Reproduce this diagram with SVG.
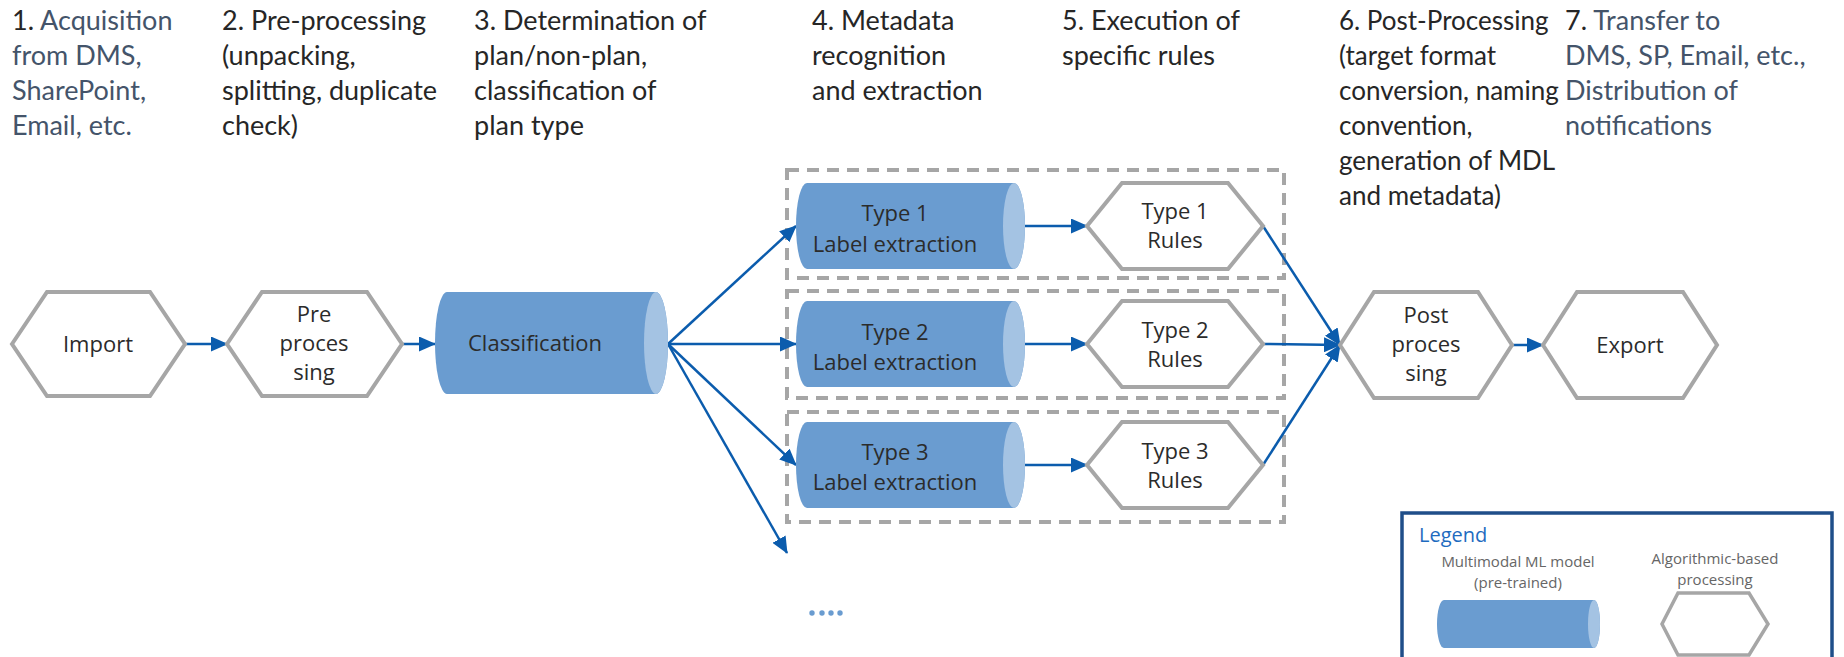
<svg xmlns="http://www.w3.org/2000/svg" width="1844" height="657" viewBox="0 0 1844 657">
<defs>
<style>
.hdr{font-family:Lato,"Liberation Sans",sans-serif;font-size:27px;fill:#262626}
.h6{font-size:26px}
.sl{fill:#44546A}
.hex{fill:#ffffff;stroke:#A6A6A6;stroke-width:4;stroke-linejoin:miter}
.cyl{fill:#6A9CD0}
.cap{fill:#A4C3E3}
.nt{font-family:"Open Sans","Noto Sans",sans-serif;font-size:22px;fill:#2B2B2B;text-anchor:middle}
.box{fill:none;stroke:#A6A6A6;stroke-width:4;stroke-dasharray:12 8}
.con{fill:none;stroke:#0B5CAD;stroke-width:2.5}
.lg{font-family:"Open Sans","Noto Sans",sans-serif;font-size:15px;fill:#666666;text-anchor:middle}
</style>
<marker id="ah" markerUnits="userSpaceOnUse" markerWidth="17" markerHeight="15" refX="16" refY="7.5" orient="auto">
<path d="M0,0 L17,7.5 L0,15 z" fill="#0B5CAD"/>
</marker>
</defs>
<rect width="1844" height="657" fill="#ffffff"/>

<g id="headers">
<text class="hdr" x="12" y="30">1. <tspan class="sl">Acquisition</tspan><tspan class="sl" x="12" y="65">from DMS,</tspan><tspan class="sl" x="12" y="100">SharePoint,</tspan><tspan class="sl" x="12" y="135">Email, etc.</tspan></text>
<text class="hdr" x="222" y="30">2. Pre-processing<tspan x="222" y="65">(unpacking,</tspan><tspan x="222" y="100">splitting, duplicate</tspan><tspan x="222" y="135">check)</tspan></text>
<text class="hdr" x="474" y="30">3. Determination of<tspan x="474" y="65">plan/non-plan,</tspan><tspan x="474" y="100">classification of</tspan><tspan x="474" y="135">plan type</tspan></text>
<text class="hdr" x="812" y="30">4. Metadata<tspan x="812" y="65">recognition</tspan><tspan x="812" y="100">and extraction</tspan></text>
<text class="hdr" x="1062" y="30">5. Execution of<tspan x="1062" y="65">specific rules</tspan></text>
<text class="hdr h6" x="1339" y="30">6. Post-Processing<tspan x="1339" y="65">(target format</tspan><tspan x="1339" y="100">conversion, naming</tspan><tspan x="1339" y="135">convention,</tspan><tspan x="1339" y="170">generation of MDL</tspan><tspan x="1339" y="205">and metadata)</tspan></text>
<text class="hdr" x="1565" y="30">7. <tspan class="sl">Transfer to</tspan><tspan class="sl" x="1565" y="65">DMS, SP, Email, etc.,</tspan><tspan class="sl" x="1565" y="100">Distribution of</tspan><tspan class="sl" x="1565" y="135">notifications</tspan></text>
</g>

<g id="groups">
<rect class="box" x="787" y="170" width="497" height="108"/>
<rect class="box" x="787" y="291" width="497" height="107"/>
<rect class="box" x="787" y="412" width="497" height="110"/>
</g>

<g id="connectors">
<path class="con" d="M185,344 L227,344" marker-end="url(#ah)"/>
<path class="con" d="M402,344 L435,344" marker-end="url(#ah)"/>
<path class="con" d="M668,344 L796,226" marker-end="url(#ah)"/>
<path class="con" d="M668,344 L796,344" marker-end="url(#ah)"/>
<path class="con" d="M668,344 L796,465" marker-end="url(#ah)"/>
<path class="con" d="M668,344 L787,553" marker-end="url(#ah)"/>
<path class="con" d="M1025,226 L1087,226" marker-end="url(#ah)"/>
<path class="con" d="M1025,344 L1087,344" marker-end="url(#ah)"/>
<path class="con" d="M1025,465 L1087,465" marker-end="url(#ah)"/>
<path class="con" d="M1263,226 L1340,345" marker-end="url(#ah)"/>
<path class="con" d="M1263,344 L1340,345" marker-end="url(#ah)"/>
<path class="con" d="M1263,465 L1340,345" marker-end="url(#ah)"/>
<path class="con" d="M1512,345 L1543,345" marker-end="url(#ah)"/>
</g>

<g id="import">
<polygon class="hex" points="12,344 47,292 150,292 185,344 150,396 47,396"/>
<text class="nt" x="98" y="352">Import</text>
</g>
<g id="preprocessing">
<polygon class="hex" points="227,344 262,292 367,292 402,344 367,396 262,396"/>
<text class="nt" x="314" y="322">Pre<tspan x="314" y="351">proces</tspan><tspan x="314" y="380">sing</tspan></text>
</g>
<g id="classification">
<path class="cyl" d="M447,292 H656 A12,51 0 0 1 656,394 H447 A12,51 0 0 1 447,292 Z"/>
<ellipse class="cap" cx="656" cy="343" rx="12" ry="51"/>
<text class="nt" x="535" y="351">Classification</text>
</g>

<g id="type1-extraction">
<path class="cyl" d="M807,183 H1014 A11,43 0 0 1 1014,269 H807 A11,43 0 0 1 807,183 Z"/>
<ellipse class="cap" cx="1014" cy="226" rx="11" ry="43"/>
<text class="nt" x="895" y="221">Type 1<tspan x="895" y="252">Label extraction</tspan></text>
</g>
<g id="type2-extraction">
<path class="cyl" d="M807,301 H1014 A11,43 0 0 1 1014,387 H807 A11,43 0 0 1 807,301 Z"/>
<ellipse class="cap" cx="1014" cy="344" rx="11" ry="43"/>
<text class="nt" x="895" y="340">Type 2<tspan x="895" y="370">Label extraction</tspan></text>
</g>
<g id="type3-extraction">
<path class="cyl" d="M807,422 H1014 A11,43 0 0 1 1014,508 H807 A11,43 0 0 1 807,422 Z"/>
<ellipse class="cap" cx="1014" cy="465" rx="11" ry="43"/>
<text class="nt" x="895" y="460">Type 3<tspan x="895" y="490">Label extraction</tspan></text>
</g>

<g id="type1-rules">
<polygon class="hex" points="1087,226 1122,183 1228,183 1263,226 1228,269 1122,269"/>
<text class="nt" x="1175" y="219">Type 1<tspan x="1175" y="248">Rules</tspan></text>
</g>
<g id="type2-rules">
<polygon class="hex" points="1087,344 1122,301 1228,301 1263,344 1228,387 1122,387"/>
<text class="nt" x="1175" y="338">Type 2<tspan x="1175" y="367">Rules</tspan></text>
</g>
<g id="type3-rules">
<polygon class="hex" points="1087,465 1122,422 1228,422 1263,465 1228,508 1122,508"/>
<text class="nt" x="1175" y="459">Type 3<tspan x="1175" y="488">Rules</tspan></text>
</g>

<g id="postprocessing">
<polygon class="hex" points="1340,345 1374,292 1478,292 1512,345 1478,398 1374,398"/>
<text class="nt" x="1426" y="323">Post<tspan x="1426" y="352">proces</tspan><tspan x="1426" y="381">sing</tspan></text>
</g>
<g id="export">
<polygon class="hex" points="1543,345 1577,292 1683,292 1717,345 1683,398 1577,398"/>
<text class="nt" x="1630" y="353">Export</text>
</g>

<g id="more">
<circle cx="812" cy="613" r="2.7" fill="#6A9CD0"/>
<circle cx="822" cy="613" r="2.7" fill="#6A9CD0"/>
<circle cx="831" cy="613" r="2.7" fill="#6A9CD0"/>
<circle cx="840" cy="613" r="2.7" fill="#6A9CD0"/>
</g>

<g id="legend">
<rect x="1402" y="513" width="430" height="160" fill="#ffffff" stroke="#1F4E89" stroke-width="3.5"/>
<text x="1419" y="542" font-family="'Open Sans','Noto Sans',sans-serif" font-size="20" fill="#1E6BBF">Legend</text>
<text class="lg" x="1518" y="567">Multimodal ML model<tspan x="1518" y="588">(pre-trained)</tspan></text>
<text class="lg" x="1715" y="564">Algorithmic-based<tspan x="1715" y="585">processing</tspan></text>
<path class="cyl" d="M1444,600 H1594 A6,24 0 0 1 1594,648 H1444 A7,24 0 0 1 1444,600 Z"/>
<ellipse class="cap" cx="1594" cy="624" rx="6" ry="24"/>
<polygon points="1662,624 1678,593 1749,593 1768,624 1749,655 1678,655" fill="#ffffff" stroke="#A6A6A6" stroke-width="3.5"/>
</g>
</svg>
